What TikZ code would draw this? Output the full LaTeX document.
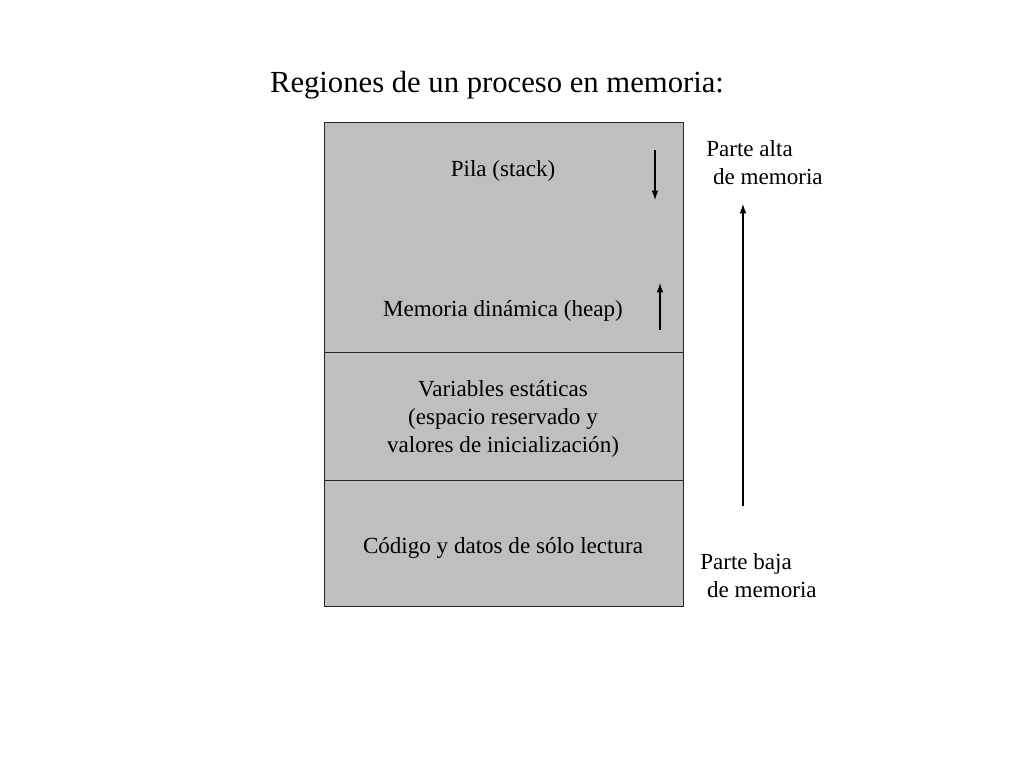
\documentclass[tikz,border=0pt]{standalone}
\usepackage{fontspec}
\setmainfont{Liberation Serif}
\usetikzlibrary{arrows.meta}

\tikzset{
  zona/.style={draw=black!85, fill=black!25, line width=0.7pt},
  texto/.style={font=\fontsize{17.3}{21}\selectfont, align=center, inner sep=0pt},
  flecha/.style={-{Latex[length=7pt,width=5pt]}, line width=0.8pt}
}

\begin{document}
\begin{tikzpicture}[x=0.75pt, y=-0.75pt]

\useasboundingbox[fill=white] (0,0) rectangle (1023,767);

\node[font=\fontsize{23}{27}\selectfont, inner sep=0pt] (titulo) at (497,85) {Regiones de un proceso en memoria:};

% bloques de la memoria
\draw[zona] (324,122) rectangle (683,352);
\draw[zona] (324,352) rectangle (683,480);
\draw[zona] (324,480) rectangle (683,606);

\node[texto] (pila) at (503,171) {Pila (stack)};
\node[texto] (heap) at (503,311) {Memoria din\'amica (heap)};
\node[texto] (estat) at (503,419) {Variables est\'aticas\\(espacio reservado y\\valores de inicializaci\'on)};
\node[texto] (codigo) at (503,548) {C\'odigo y datos de s\'olo lectura};

% crecimiento de pila y heap
\coordinate (pilaA) at (655,150);
\coordinate (pilaB) at (655,200);
\coordinate (heapA) at (660,330);
\coordinate (heapB) at (660,283);
\draw[flecha] (pilaA) -- (pilaB);
\draw[flecha] (heapA) -- (heapB);

% direcciones
\node[texto, align=left, anchor=west] (alta) at (706,163) {Parte alta\\\hspace*{0.3em}de memoria};
\node[texto, align=left, anchor=west] (baja) at (700,576) {Parte baja\\\hspace*{0.3em}de memoria};
\coordinate (dirA) at (743,506);
\coordinate (dirB) at (743,204);
\draw[flecha] (dirA) -- (dirB);

\end{tikzpicture}
\end{document}
